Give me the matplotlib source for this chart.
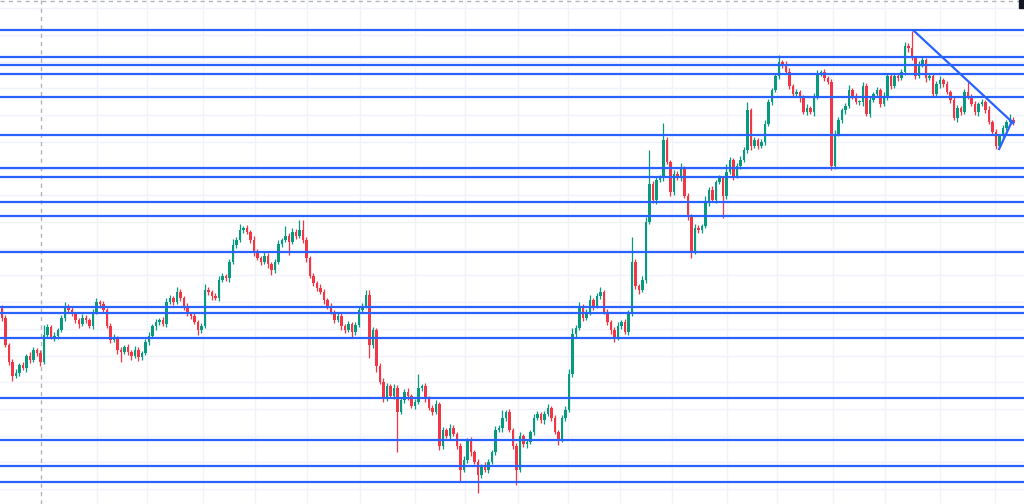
import numpy as np
import matplotlib.pyplot as plt
from matplotlib.patches import Rectangle

# candle closes (price units), first open, wick lengths above/below the body
first_open = 193
closes = [182, 155, 138, 124, 127, 135, 132, 144, 140, 150,
          147, 138, 165, 173, 163, 164, 170, 182, 194, 190,
          186, 180, 176, 182, 180, 174, 188, 198, 196, 190,
          174, 160, 162, 150, 148, 153, 148, 144, 150, 143,
          147, 158, 164, 174, 178, 180, 176, 198, 202, 198,
          208, 202, 194, 186, 184, 178, 170, 174, 210, 208,
          204, 202, 220, 224, 222, 238, 255, 260, 270, 272,
          268, 260, 248, 242, 238, 244, 236, 230, 238, 256,
          260, 264, 258, 268, 264, 270, 260, 242, 224, 217,
          212, 208, 200, 194, 188, 180, 184, 174, 170, 176,
          168, 175, 190, 194, 205, 155, 170, 134, 118, 102,
          114, 104, 112, 88, 100, 108, 104, 94, 98, 112,
          114, 102, 92, 88, 96, 54, 70, 64, 72, 66,
          54, 30, 40, 60, 48, 38, 25, 34, 30, 38,
          48, 70, 72, 82, 88, 70, 54, 30, 64, 56,
          58, 68, 82, 86, 80, 86, 92, 82, 68, 60,
          82, 90, 126, 166, 172, 194, 182, 188, 200, 194,
          204, 208, 188, 178, 170, 162, 174, 178, 168, 186,
          238, 214, 210, 220, 278, 316, 300, 320, 322, 360,
          338, 308, 326, 322, 332, 304, 284, 248, 272, 270,
          274, 298, 310, 300, 318, 322, 304, 328, 340, 324,
          334, 340, 350, 390, 354, 360, 354, 358, 376, 398,
          410, 424, 438, 436, 428, 414, 406, 408, 402, 388,
          392, 388, 404, 426, 428, 422, 418, 334, 366, 380,
          390, 394, 410, 404, 398, 398, 414, 386, 400, 406,
          410, 396, 404, 424, 414, 424, 422, 428, 454, 452,
          442, 424, 436, 440, 422, 424, 406, 416, 420, 416,
          408, 400, 382, 392, 388, 408, 404, 396, 388, 396,
          398, 390, 378, 368, 354, 364, 372, 378, 380, 377]

up_wick = [2, 3, 2, 3, 4, 2, 3, 2, 4, 3,
           2, 3, 10, 3, 2, 4, 2, 3, 4, 2,
           3, 2, 2, 4, 3, 2, 3, 4, 2, 3,
           2, 3, 4, 2, 3, 2, 3, 2, 4, 3,
           2, 3, 4, 2, 3, 2, 3, 4, 3, 2,
           5, 3, 2, 3, 2, 4, 2, 3, 6, 3,
           2, 3, 4, 3, 2, 3, 6, 3, 6, 2,
           3, 2, 4, 3, 2, 5, 3, 2, 3, 4,
           2, 10, 3, 4, 3, 10, 10, 3, 2, 3,
           2, 4, 3, 2, 3, 2, 4, 3, 2, 3,
           2, 3, 4, 3, 5, 5, 3, 2, 3, 4,
           3, 2, 4, 3, 2, 3, 4, 2, 3, 14,
           2, 3, 2, 3, 4, 2, 3, 2, 4, 3,
           2, 3, 4, 2, 3, 2, 3, 2, 4, 3,
           2, 4, 3, 8, 2, 3, 2, 3, 4, 2,
           3, 2, 4, 3, 2, 3, 4, 2, 3, 2,
           3, 4, 5, 6, 3, 4, 2, 3, 5, 2,
           3, 5, 2, 3, 2, 3, 4, 2, 3, 4,
           25, 3, 2, 4, 5, 34, 3, 4, 3, 17,
           3, 2, 4, 3, 5, 2, 3, 2, 4, 3,
           2, 6, 3, 4, 2, 3, 2, 8, 3, 2,
           3, 4, 3, 8, 2, 3, 2, 3, 4, 3,
           2, 3, 7, 2, 3, 4, 2, 3, 2, 3,
           4, 2, 3, 4, 2, 3, 2, 3, 4, 3,
           2, 3, 5, 2, 3, 2, 4, 3, 3, 2,
           3, 2, 4, 3, 2, 3, 2, 3, 4, 3,
           17, 2, 3, 4, 2, 3, 2, 3, 4, 2,
           3, 2, 4, 3, 2, 3, 10, 2, 3, 2,
           3, 2, 4, 2, 3, 2, 3, 2, 6, 3]

down_wick = [3, 2, 3, 5, 2, 3, 2, 4, 3, 2,
             3, 4, 2, 3, 2, 4, 3, 2, 3, 2,
             2, 3, 4, 2, 3, 2, 3, 2, 4, 3,
             2, 3, 2, 4, 10, 2, 3, 4, 2, 4,
             3, 2, 3, 2, 4, 3, 2, 3, 2, 3,
             2, 3, 4, 2, 3, 2, 5, 3, 2, 3,
             4, 2, 3, 2, 3, 4, 2, 3, 2, 3,
             2, 3, 4, 2, 3, 2, 4, 5, 3, 2,
             3, 2, 13, 2, 3, 2, 3, 4, 2, 3,
             3, 2, 4, 3, 2, 3, 2, 4, 3, 2,
             5, 3, 2, 3, 2, 13, 3, 6, 2, 4,
             3, 2, 3, 40, 2, 3, 4, 2, 3, 2,
             3, 4, 2, 3, 2, 4, 3, 2, 3, 2,
             3, 12, 2, 3, 4, 2, 18, 3, 2, 3,
             2, 3, 2, 4, 3, 2, 3, 15, 2, 3,
             4, 2, 3, 2, 3, 4, 2, 3, 2, 5,
             2, 3, 2, 3, 4, 2, 3, 2, 3, 4,
             2, 3, 2, 3, 4, 4, 2, 3, 2, 3,
             2, 3, 4, 2, 3, 2, 3, 4, 2, 3,
             2, 4, 3, 2, 3, 2, 4, 6, 2, 3,
             3, 2, 4, 2, 3, 2, 22, 3, 2, 4,
             2, 3, 2, 3, 4, 2, 3, 2, 3, 2,
             3, 2, 3, 4, 2, 3, 2, 3, 4, 2,
             3, 2, 4, 3, 2, 3, 2, 4, 3, 2,
             3, 4, 2, 3, 2, 3, 4, 2, 3, 2,
             2, 3, 2, 4, 3, 2, 3, 2, 3, 4,
             2, 3, 2, 3, 4, 2, 3, 2, 4, 3,
             2, 3, 2, 4, 3, 2, 3, 2, 3, 4,
             2, 3, 2, 3, 3, 2, 3, 2, 3, 2]

# horizontal support / resistance levels
levels = [470, 443, 435, 426, 403, 365, 332, 323, 298, 284,
          248, 193, 187.5, 162, 102, 60, 34.5, 18]

# trendlines as (candle index, price) pairs
trend_down = [(260.6, 469), (288.9, 377)]
trend_up = [(284.9, 351), (288.6, 379)]

# vertical time grid (candle index) and crosshair position
time_grid = [27.1, 41.4, 57.4, 72.3, 87.1, 102.3, 118.0, 132.3, 147.4,
             161.7, 176.6, 191.4, 207.1, 221.4, 237.4, 252.3, 268.0, 283.7]
cross_x = 11.1
cross_y = 499

up_color = '#089981'
down_color = '#f23645'
line_blue = '#2962ff'

closes = np.array(closes, dtype=float)
opens = np.concatenate(([first_open], closes[:-1]))
highs = np.maximum(opens, closes) + np.array(up_wick)
lows = np.minimum(opens, closes) - np.array(down_wick)
idx = np.arange(len(closes))
colors = np.where(closes >= opens, up_color, down_color)

fig = plt.figure(figsize=(10.24, 5.04), dpi=100)
ax = fig.add_axes([0, 0, 1, 1])
ax.set_xlim(-0.57, 292)
ax.set_ylim(-4, 500)
ax.axis('off')

# light chart grid
for gx in time_grid:
    ax.axvline(gx, color='#f0f3fa', lw=1, zorder=0)
for gy in np.arange(11, 500, 26.7):
    ax.axhline(gy, color='#f0f3fa', lw=1, zorder=0)

# crosshair
ax.axvline(cross_x, color='#b2b5be', lw=1, ls=(0, (3, 3)), zorder=1)
ax.axhline(cross_y, color='#b2b5be', lw=1, ls=(0, (3, 3)), zorder=1)

# candles
ax.vlines(idx, lows, highs, colors=colors, lw=0.9, zorder=2)
body = np.maximum(np.abs(closes - opens), 0.8)
ax.bar(idx, body, bottom=np.minimum(opens, closes), width=0.8, color=colors, linewidth=0, zorder=3)

# levels and trendlines
for lv in levels:
    ax.axhline(lv, color=line_blue, lw=1.6, zorder=4)
for tl in (trend_down, trend_up):
    ax.plot([p[0] for p in tl], [p[1] for p in tl], color=line_blue, lw=1.6, zorder=4)

# cut price tag in the top-right corner
fig.patches.append(Rectangle((0.9955, 0.984), 0.01, 0.02, transform=fig.transFigure, color='#131722'))

fig.savefig('out.png', dpi=100)
